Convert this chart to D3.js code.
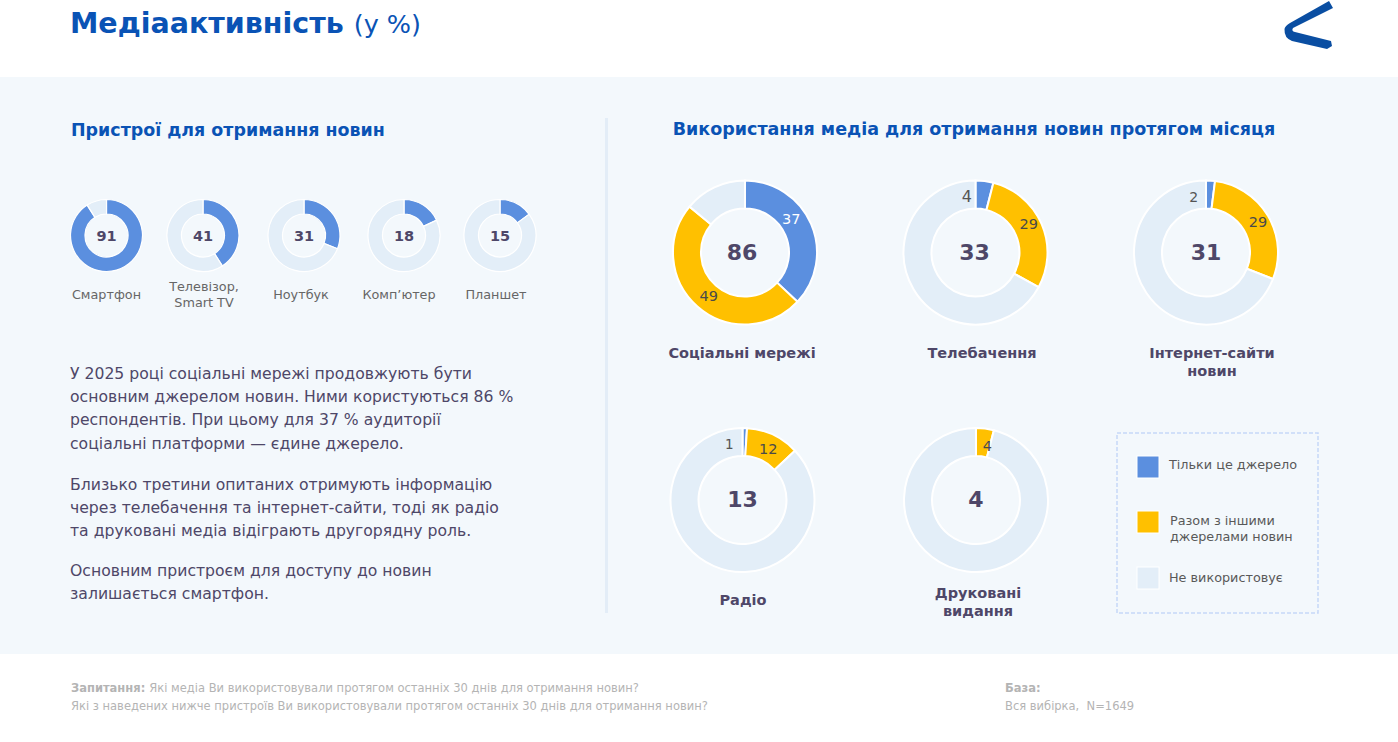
<!DOCTYPE html>
<html lang="uk">
<head>
<meta charset="utf-8">
<title>Медіаактивність</title>
<script src="https://cdn.jsdelivr.net/npm/d3@7"></script>
<style>
  html, body { margin: 0; padding: 0; background: #fff; }
  svg { display: block; font-family: "DejaVu Sans", Verdana, sans-serif; }
</style>
</head>
<body>
<div id="wrapper"></div>
<script>
// device donuts
const deviceNames = [["Смартфон"], ["Телевізор,", "Smart TV"], ["Ноутбук"], ["Комп’ютер"], ["Планшет"]];
const deviceValues = [91, 41, 31, 18, 15];

// media donuts
const mediaNames = [["Соціальні мережі"], ["Телебачення"], ["Інтернет-сайти", "новин"], ["Радіо"], ["Друковані", "видання"]];
const mediaTotals = [86, 33, 31, 13, 4];
const onlyThisSource = [37, 4, 2, 1, 0];
const withOtherSources = [49, 29, 29, 12, 4];
const notUsing = [14, 67, 69, 87, 96];

const legendLabels = [["Тільки це джерело"], ["Разом з іншими", "джерелами новин"], ["Не використовує"]];

const paragraphs = [
  ["У 2025 році соціальні мережі продовжують бути", "основним джерелом новин. Ними користуються 86 %", "респондентів. При цьому для 37 % аудиторії", "соціальні платформи — єдине джерело."],
  ["Близько третини опитаних отримують інформацію", "через телебачення та інтернет-сайти, тоді як радіо", "та друковані медіа відіграють другорядну роль."],
  ["Основним пристроєм для доступу до новин", "залишається смартфон."]
];

const blue = "#5b8fdf", yellow = "#ffc000", pale = "#e3eef8", navy = "#0a53b5", ink = "#4e4768";

const width = 1398, height = 742;
const svg = d3.select("#wrapper").append("svg").attr("width", width).attr("height", height);

svg.append("rect").attr("y", 77).attr("width", width).attr("height", 577).attr("fill", "#f3f8fc");
svg.append("rect").attr("x", 605).attr("y", 118).attr("width", 3).attr("height", 495).attr("fill", "#e3edf7");

const title = svg.append("text").attr("x", 70).attr("y", 33).attr("fill", navy);
title.append("tspan").attr("font-size", 28.5).attr("font-weight", 700).text("Медіаактивність");
title.append("tspan").attr("font-size", 25.5).attr("dx", 10).text("(у %)");

// logo
svg.append("path")
  .attr("d", "M1329,1 L1333,8 L1293,28 Q1291,31 1295,32 L1331,41 L1332,46 L1327,49 L1292,41 Q1284,38 1284.5,29 Q1285,26 1290,23 Z")
  .attr("fill", "#0a4ea2");

svg.append("text").attr("x", 71).attr("y", 136).attr("fill", navy)
  .attr("font-size", 17.45).attr("font-weight", 700).text("Пристрої для отримання новин");
svg.append("text").attr("x", 974).attr("y", 135).attr("fill", navy).attr("text-anchor", "middle")
  .attr("font-size", 17.5).attr("font-weight", 700).text("Використання медіа для отримання новин протягом місяця");

const pie = d3.pie().sort(null).value(d => d.value);

function drawLines(group, lines, x, y, lineHeight, attrs) {
  lines.forEach((line, i) => {
    const t = group.append("text").attr("x", x).attr("y", y + i * lineHeight).text(line);
    Object.entries(attrs).forEach(([k, v]) => t.attr(k, v));
  });
}

// small donuts
const deviceX = [106.5, 203, 304, 404, 500];
const deviceArc = d3.arc().innerRadius(21.5).outerRadius(36);
const deviceLabelY = [299, 291, 299, 299, 299];
const deviceTextX = [106.5, 204, 301, 399, 496];

deviceValues.forEach((v, i) => {
  const g = svg.append("g").attr("transform", `translate(${deviceX[i]},235.5)`);
  g.selectAll("path")
    .data(pie([{ value: v, color: blue }, { value: 100 - v, color: pale }]))
    .enter().append("path")
    .attr("d", deviceArc)
    .attr("fill", d => d.data.color)
    .attr("stroke", "#fff").attr("stroke-width", 1.2);
  g.append("text").attr("text-anchor", "middle").attr("x", 0).attr("y", 5)
    .attr("font-size", 14.5).attr("font-weight", 700).attr("fill", ink).text(v);
  drawLines(svg, deviceNames[i], deviceTextX[i], deviceLabelY[i], 15.5,
    { "text-anchor": "middle", "font-size": 12.8, fill: "#666" });
});

// body text
const paragraphY = [379, 490, 576];
paragraphs.forEach((lines, i) => {
  drawLines(svg, lines, 70, paragraphY[i], 23.2, { "font-size": 15.65, fill: ink });
});

// big donuts
const mediaX = [745, 975.5, 1206, 742.5, 976];
const mediaY = [252.5, 252.5, 252.5, 500, 500];
const mediaArc = d3.arc().innerRadius(44).outerRadius(72);
const mediaTextX = [742, 982, 1212, 743, 978];
const mediaTextY = [358, 358, 358, 605, 598];
const totalDx = [-3, -1, 0, 0, 0];
// label offsets from the slice centroid
const onlyNudge = [[-7, -10], [-16, 2], [-16, 2], [-15, 2], [0, 0]];
const otherNudge = [[2, 0], [0, -5], [2, -1], [1, 1], [4, 4]];
const onlySizes = [14.5, 16, 14, 13.5, 13.5];

mediaTotals.forEach((total, i) => {
  const g = svg.append("g").attr("transform", `translate(${mediaX[i]},${mediaY[i]})`);
  const slices = pie([
    { value: onlyThisSource[i], color: blue },
    { value: withOtherSources[i], color: yellow },
    { value: notUsing[i], color: pale }
  ]);
  g.selectAll("path").data(slices).enter().append("path")
    .attr("d", mediaArc)
    .attr("fill", d => d.data.color)
    .attr("stroke", "#fff").attr("stroke-width", 2);

  g.append("text").attr("text-anchor", "middle").attr("x", totalDx[i]).attr("y", 7)
    .attr("font-size", 22).attr("font-weight", 700).attr("fill", ink).text(total);

  if (onlyThisSource[i] > 0) {
    const c = mediaArc.centroid(slices[0]);
    g.append("text").attr("text-anchor", "middle")
      .attr("x", c[0] + onlyNudge[i][0]).attr("y", c[1] + onlyNudge[i][1] + 5)
      .attr("font-size", onlySizes[i])
      .attr("fill", i === 0 ? "#fff" : "#555").text(onlyThisSource[i]);
  }
  const c2 = mediaArc.centroid(slices[1]);
  g.append("text").attr("text-anchor", "middle")
    .attr("x", c2[0] + otherNudge[i][0]).attr("y", c2[1] + otherNudge[i][1] + 5)
    .attr("font-size", 14.5).attr("fill", "#4a4a4a").text(withOtherSources[i]);

  drawLines(svg, mediaNames[i], mediaTextX[i], mediaTextY[i], 18,
    { "text-anchor": "middle", "font-size": 14.5, "font-weight": 700, fill: ink });
});

// legend
svg.append("rect").attr("x", 1117).attr("y", 433).attr("width", 201).attr("height", 180)
  .attr("fill", "none").attr("stroke", "#c6d7f8").attr("stroke-width", 1.5).attr("stroke-dasharray", "4 2");
const legendColors = [blue, yellow, pale];
const legendY = [456, 511, 567];
const legendTextX = [1169, 1170, 1169];
const legendTextY = [469, 525, 582];
legendLabels.forEach((lines, i) => {
  svg.append("rect").attr("x", 1137).attr("y", legendY[i]).attr("width", 22).attr("height", 22)
    .attr("fill", legendColors[i]).attr("stroke", "#fff").attr("stroke-width", 1);
  drawLines(svg, lines, legendTextX[i], legendTextY[i], 16,
    { "font-size": 12.8, fill: "#595959" });
});

// footer
const footer = svg.append("g").attr("font-size", 11.5).attr("fill", "#b4b4b4");
const q = footer.append("text").attr("x", 71).attr("y", 692);
q.append("tspan").attr("font-weight", 700).text("Запитання: ");
q.append("tspan").text("Які медіа Ви використовували протягом останніх 30 днів для отримання новин?");
footer.append("text").attr("x", 71).attr("y", 710).text("Які з наведених нижче пристроїв Ви використовували протягом останніх 30 днів для отримання новин?");
footer.append("text").attr("x", 1005).attr("y", 692).attr("font-weight", 700).text("База:");
footer.append("text").attr("x", 1005).attr("y", 710).attr("xml:space", "preserve").text("Вся вибірка,  N=1649");
</script>
</body>
</html>
